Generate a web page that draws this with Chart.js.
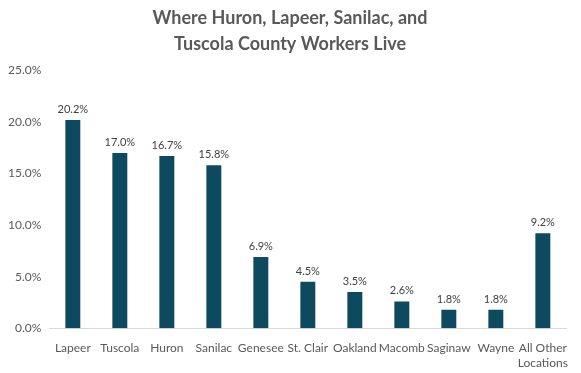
<!DOCTYPE html>
<html>
<head>
<meta charset="utf-8">
<script src="https://cdn.jsdelivr.net/npm/chart.js@4"></script>
<style>
  html, body { margin: 0; padding: 0; background: #fff; }
  #wrap { width: 581px; height: 373px; }
</style>
</head>
<body>
<div id="wrap"><canvas id="myChart" width="581" height="373"></canvas></div>
<script>
const categories = ['Lapeer', 'Tuscola', 'Huron', 'Sanilac', 'Genesee', 'St. Clair', 'Oakland', 'Macomb', 'Saginaw', 'Wayne', ['All Other', 'Locations']];
const shares = [20.2, 17.0, 16.7, 15.8, 6.9, 4.5, 3.5, 2.6, 1.8, 1.8, 9.2];
const yTicks = [0, 5, 10, 15, 20, 25];

document.addEventListener("DOMContentLoaded", () => {
    const ctx = document.getElementById('myChart').getContext('2d');
    const font = "Lato, 'Open Sans', sans-serif";

    // value labels above bars
    const barLabels = {
        id: 'barLabels',
        afterDatasetsDraw(chart) {
            const c = chart.ctx;
            const meta = chart.getDatasetMeta(0);
            c.save();
            c.fillStyle = '#404040';
            c.font = "11px " + font;
            c.textAlign = 'center';
            c.textBaseline = 'bottom';
            meta.data.forEach((bar, i) => {
                c.fillText(shares[i].toFixed(1) + '%', bar.x, bar.y - 5);
            });
            c.restore();
        }
    };

    new Chart(ctx, {
        type: 'bar',
        data: {
            labels: categories,
            datasets: [{
                data: shares,
                backgroundColor: '#0e4a5f',
                barPercentage: 0.6,
                categoryPercentage: 0.53
            }]
        },
        options: {
            responsive: false,
            animation: false,
            layout: { padding: { left: 0, right: 1, top: 0, bottom: -10 } },
            plugins: {
                legend: { display: false },
                tooltip: { enabled: false },
                title: {
                    display: true,
                    text: ['Where Huron, Lapeer, Sanilac, and', 'Tuscola County Workers Live'],
                    color: '#595959',
                    font: { family: font, size: 18, weight: 'bold', lineHeight: 1.4 },
                    padding: { top: 6, bottom: 14 }
                }
            },
            scales: {
                x: {
                    grid: { display: false, drawTicks: false },
                    border: { color: '#d9d9d9' },
                    ticks: { color: '#595959', font: { family: font, size: 12 }, padding: 13, maxRotation: 0, autoSkip: false }
                },
                y: {
                    min: 0, max: 25,
                    afterBuildTicks: (axis) => { axis.ticks = yTicks.map(v => ({ value: v })); },
                    grid: { display: false, drawTicks: false },
                    border: { display: false },
                    ticks: {
                        color: '#595959', font: { family: font, size: 12 }, padding: 8,
                        callback: (v) => v.toFixed(1) + '%'
                    }
                }
            }
        },
        plugins: [barLabels]
    });
});
</script>
</body>
</html>
